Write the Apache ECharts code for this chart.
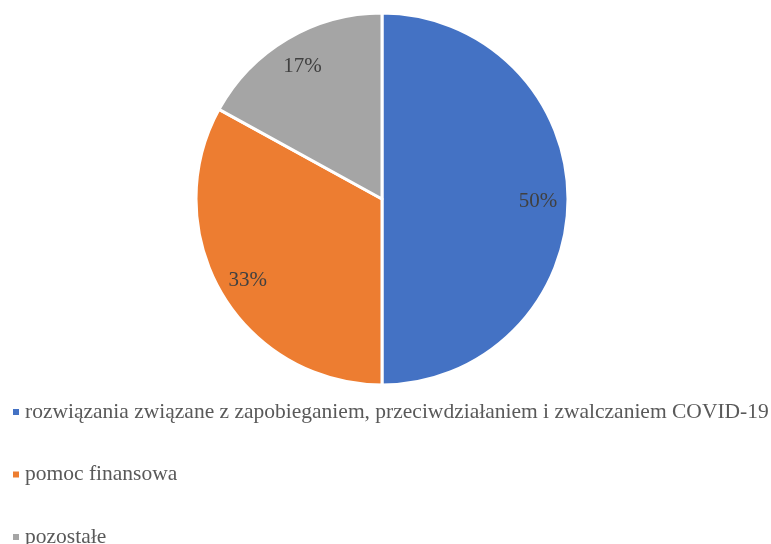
<!DOCTYPE html>
<html>
<head>
<meta charset="utf-8">
<script src="https://cdn.jsdelivr.net/npm/echarts@6/dist/echarts.min.js"></script>
<style>
  html, body { margin: 0; padding: 0; background: #fff; }
  #chart { width: 771px; height: 544px; }
</style>
</head>
<body>
<div id="chart"></div>
<script>
// dane z wykresu
const categories = [
  'rozwiązania związane z zapobieganiem, przeciwdziałaniem i zwalczaniem COVID-19',
  'pomoc finansowa',
  'pozostałe'
]
const values = [50, 33, 17]
const colors = ['#4472C4', '#ED7D31', '#A5A5A5']

const chart = echarts.init(document.getElementById('chart'))

const pieData = categories.map((name, i) => ({
  name: name,
  value: values[i],
  itemStyle: { color: colors[i] }
}))

const option = {
  animation: false,
  legend: {
    orient: 'vertical',
    left: 6,
    top: 396,
    height: 300,
    padding: 5,
    itemWidth: 8,
    itemHeight: 8,
    itemGap: 40.5,
    icon: 'rect',
    data: categories,
    textStyle: {
      fontFamily: 'Liberation Serif',
      fontSize: 21.5,
      color: '#595959'
    }
  },
  series: [
    {
      // wycinki
      type: 'pie',
      center: [382, 199],
      radius: [0, 186],
      startAngle: 90,
      clockwise: true,
      silent: true,
      itemStyle: { borderColor: '#fff', borderWidth: 3 },
      label: { show: false },
      labelLine: { show: false },
      data: pieData
    },
    {
      // etykiety procentowe (przezroczysty pierścień)
      type: 'pie',
      center: [382, 201],
      radius: [120, 186],
      startAngle: 90,
      silent: true,
      legendHoverLink: false,
      itemStyle: { color: 'transparent' },
      label: {
        show: true,
        position: 'inside',
        formatter: p => p.value + '%',
        fontFamily: 'Liberation Serif',
        fontSize: 21,
        color: '#404040'
      },
      labelLine: { show: false },
      data: categories.map((name, i) => ({ name: name, value: values[i] }))
    }
  ]
}

chart.setOption(option)
</script>
</body>
</html>
